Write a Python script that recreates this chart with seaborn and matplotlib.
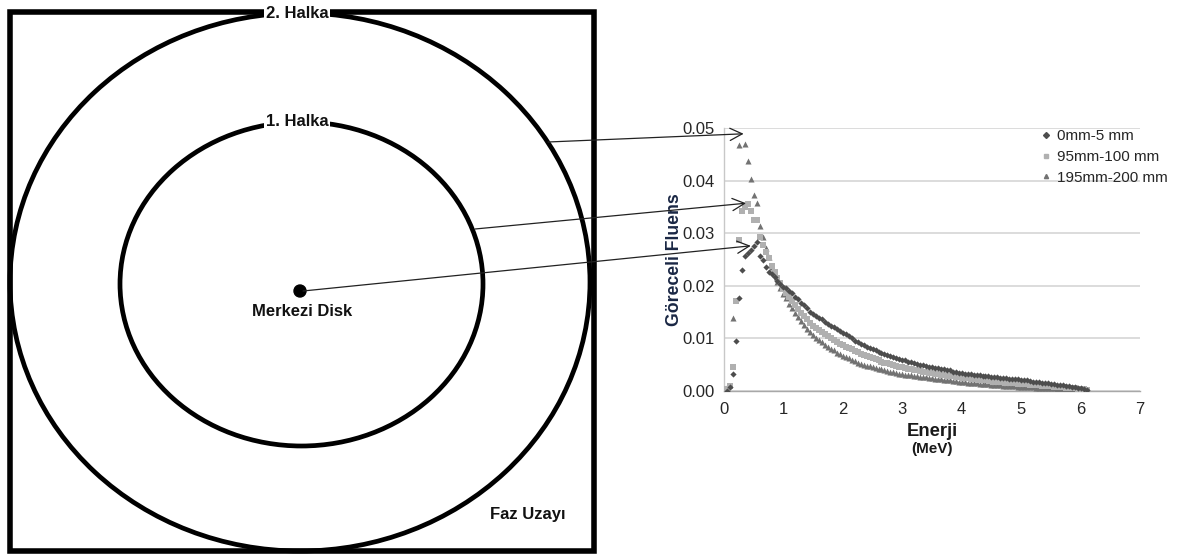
import numpy as np
import pandas as pd
import matplotlib
matplotlib.use("Agg")
import matplotlib.pyplot as plt
from matplotlib import patches
from matplotlib.lines import Line2D
import seaborn as sns

nan = np.nan

# Energy bins (MeV), 0.05 MeV wide, 0.05 ... 6.10
energy = np.round(np.arange(1, 123) * 0.05, 2)

# Relative fluence for the three radial rings of the phase space
fluence_0_5 = [
    .0000, .0008, .0032, .0096, .0176, .0230, .0257, .0262, .0268, .0276,
    .0284, .0257, .0249, .0236, .0227, .0222, .0216, .0210, .0203, .0197,
    .0195, .0190, .0186, .0179, .0174, .0168, .0163, .0157, .0150, .0146,
    .0143, .0138, .0136, .0131, .0128, .0124, .0122, .0117, .0114, .0110,
    .0108, .0104, .0101, .0096, .0094, .0089, .0087, .0084, .0081, .0079,
    .0077, .0075, .0072, .0071, .0068, .0066, .0065, .0062, .0061, .0059,
    .0058, .0056, .0055, .0053, .0052, .0050, .0049, .0047, .0046, .0045,
    .0044, .0043, .0042, .0041, .0039, .0039, .0037, .0036, .0035, .0034,
    .0033, .0033, .0032, .0031, .0030, .0030, .0029, .0028, .0028, .0027,
    .0026, .0026, .0025, .0024, .0024, .0023, .0023, .0022, .0022, .0021,
    .0020, .0020, .0019, .0018, .0018, .0017, .0016, .0015, .0015, .0014,
    .0013, .0012, .0012, .0011, .0010, .0009, .0008, .0007, .0006, .0005,
    .0003, .0002,
]
fluence_95_100 = [
    .0003, .0010, .0046, .0171, .0287, .0342, .0350, .0355, .0342, .0325,
    .0325, .0293, .0277, .0265, .0252, .0238, .0226, .0215, .0205, .0196,
    .0187, .0179, .0171, .0163, .0156, .0149, .0142, .0136, .0130, .0124,
    .0120, .0116, .0112, .0108, .0104, .0100, .0097, .0093, .0090, .0087,
    .0084, .0081, .0079, .0076, .0074, .0071, .0069, .0066, .0064, .0062,
    .0060, .0058, .0056, .0054, .0053, .0051, .0049, .0048, .0046, .0045,
    .0044, .0042, .0041, .0040, .0039, .0038, .0037, .0036, .0035, .0034,
    .0033, .0032, .0031, .0030, .0029, .0029, .0028, .0027, .0026, .0025,
    .0024, .0024, .0023, .0022, .0022, .0021, .0021, .0020, .0020, .0019,
    .0018, .0018, .0017, .0017, .0016, .0016, .0015, .0015, .0014, .0014,
    .0013, .0013, .0012, .0012, .0011, .0011, .0010, .0010, .0009, .0009,
    .0008, .0008, .0007, .0007, .0006, .0006, .0005, .0005, .0004, .0004,
    .0003, .0002,
]
fluence_195_200 = [
    .0008, nan, .0138, nan, .0468, nan, .0470, .0438, .0403, .0372,
    .0358, .0314, .0293, .0272, .0255, .0235, .0222, .0208, .0196, .0185,
    .0176, .0166, .0157, .0149, .0141, .0133, .0125, .0118, .0112, .0106,
    .0101, .0097, .0093, .0088, .0084, .0080, .0077, .0073, .0070, .0067,
    .0064, .0062, .0059, .0057, .0054, .0052, .0050, .0048, .0047, .0045,
    .0044, .0042, .0041, .0040, .0038, .0037, .0036, .0035, .0033, .0032,
    .0031, .0030, .0030, .0029, .0028, .0027, .0026, .0026, .0025, .0024,
    .0023, .0023, .0022, .0021, .0021, .0020, .0019, .0019, .0018, .0017,
    .0017, .0016, .0016, .0015, .0015, .0014, .0014, .0013, .0013, .0012,
    .0012, .0011, .0011, .0010, .0010, .0010, .0009, .0009, .0008, .0008,
    .0008, .0007, .0007, .0007, .0006, .0006, .0006, .0006, .0005, .0005,
    .0005, .0004, .0004, .0004, .0004, .0003, .0003, .0003, .0002, .0002,
    .0001, .0001,
]

series_labels = ["0mm-5 mm", "95mm-100 mm", "195mm-200 mm"]
x_ticks = [0, 1, 2, 3, 4, 5, 6, 7]
y_ticks = [0.00, 0.01, 0.02, 0.03, 0.04, 0.05]

# Spectrum peaks pointed at from the rings of the diagram (E, fluence)
peak_points = [(0.33, 0.0489), (0.37, 0.0357), (0.45, 0.0276)]

sns.set_style("white")
plt.rcParams["font.family"] = ["Liberation Sans", "DejaVu Sans"]

W, H = 1184, 554
fig = plt.figure(figsize=(W / 100, H / 100), dpi=100)
fig.patch.set_facecolor("white")

# ---- spectrum chart ----
ax = fig.add_axes([724 / W, (H - 391) / H, 416 / W, 263 / H])

df = pd.DataFrame({
    "Enerji": np.tile(energy, 3),
    "Fluens": np.concatenate([fluence_0_5, fluence_95_100, fluence_195_200]),
    "Seri": np.repeat(series_labels, len(energy)),
}).dropna()

styles = {
    "0mm-5 mm": dict(marker="D", color="#4d4d4d", s=10),
    "95mm-100 mm": dict(marker="s", color="#b0b0b0", s=15),
    "195mm-200 mm": dict(marker="^", color="#727272", s=19),
}
for lab in series_labels[::-1]:
    st = styles[lab]
    sns.scatterplot(data=df[df["Seri"] == lab], x="Enerji", y="Fluens",
                    marker=st["marker"], color=st["color"], s=st["s"],
                    linewidth=0, ax=ax, legend=False, zorder=3)

ax.set_xlim(0, 7)
ax.set_ylim(0, 0.05)
ax.set_xticks(x_ticks)
ax.set_yticks(y_ticks)
ax.set_yticklabels([f"{v:.2f}" for v in y_ticks])
ax.yaxis.grid(True, color="#d9d9d9", lw=1.3)
ax.xaxis.grid(False)
ax.set_axisbelow(True)
for side in ("top", "right"):
    ax.spines[side].set_visible(False)
ax.spines["left"].set_color("#c8c8c8")
ax.spines["bottom"].set_color("#a8a8a8")
ax.spines["left"].set_linewidth(1.0)
ax.spines["bottom"].set_linewidth(1.0)
ax.tick_params(axis="x", direction="out", length=4, width=1, color="#a8a8a8",
               labelsize=12, labelcolor="#262626", pad=4)
ax.tick_params(axis="y", direction="out", length=4, width=1, color="#c8c8c8",
               labelsize=12, labelcolor="#262626", pad=3)
ax.set_xlabel("")
ax.set_ylabel("Göreceli Fluens", fontsize=12.7, fontweight="bold", color="#1a2744")
ax.yaxis.set_label_coords((683 - 724) / 416, 0.5)
ax.text(0.5, (391 - 432) / 263, "Enerji", transform=ax.transAxes, ha="center",
        va="center", fontsize=13.3, fontweight="bold", color="#1a1a1a")
ax.text(0.5, (391 - 449) / 263, "(MeV)", transform=ax.transAxes, ha="center",
        va="center", fontsize=11, fontweight="bold", color="#1a1a1a")

handles = [Line2D([], [], ls="none", marker=styles[l]["marker"],
                  color=styles[l]["color"], markersize=3) for l in series_labels]
fig.legend(handles, series_labels, loc="upper left",
           bbox_to_anchor=(1041 / W, 1 - 129 / H), frameon=False, fontsize=11,
           handlelength=0.6, handletextpad=0.45, labelspacing=0.45,
           borderpad=0, borderaxespad=0, labelcolor="#262626")

# ---- phase-space diagram ----
ov = fig.add_axes([0, 0, 1, 1], zorder=5)
ov.set_xlim(0, W)
ov.set_ylim(H, 0)
ov.axis("off")
ov.patch.set_alpha(0)

ov.add_patch(patches.Rectangle((10, 12), 584, 539, fill=False, ec="black", lw=4.0))
ov.add_patch(patches.Ellipse((300, 282), 580, 538, fill=False, ec="black", lw=3.4))
ov.add_patch(patches.Ellipse((301.5, 284), 363, 324, fill=False, ec="black", lw=3.4))
ov.add_patch(patches.Circle((300, 291), 6, fc="black", ec="black"))

txt = dict(ha="center", va="center", fontsize=12, fontweight="bold", color="#111111")
ov.text(297, 13, "2. Halka", bbox=dict(fc="white", ec="none", pad=1.5), **txt)
ov.text(297, 122, "1. Halka", bbox=dict(fc="white", ec="none", pad=1.5), **txt)
ov.text(302, 311, "Merkezi Disk", **txt)
ov.text(528, 515, "Faz Uzayı", **txt)

starts = [(548, 142), (475, 229), (303, 291)]
for (x0, y0), (e, f) in zip(starts, peak_points):
    ov.annotate("", xy=(e, f), xycoords=ax.transData, xytext=(x0, y0),
                textcoords="data", annotation_clip=False,
                arrowprops=dict(arrowstyle="->", lw=0.9, color="#222222",
                                mutation_scale=22, shrinkA=0, shrinkB=0))

fig.savefig("out.png", dpi=100, facecolor="white")
